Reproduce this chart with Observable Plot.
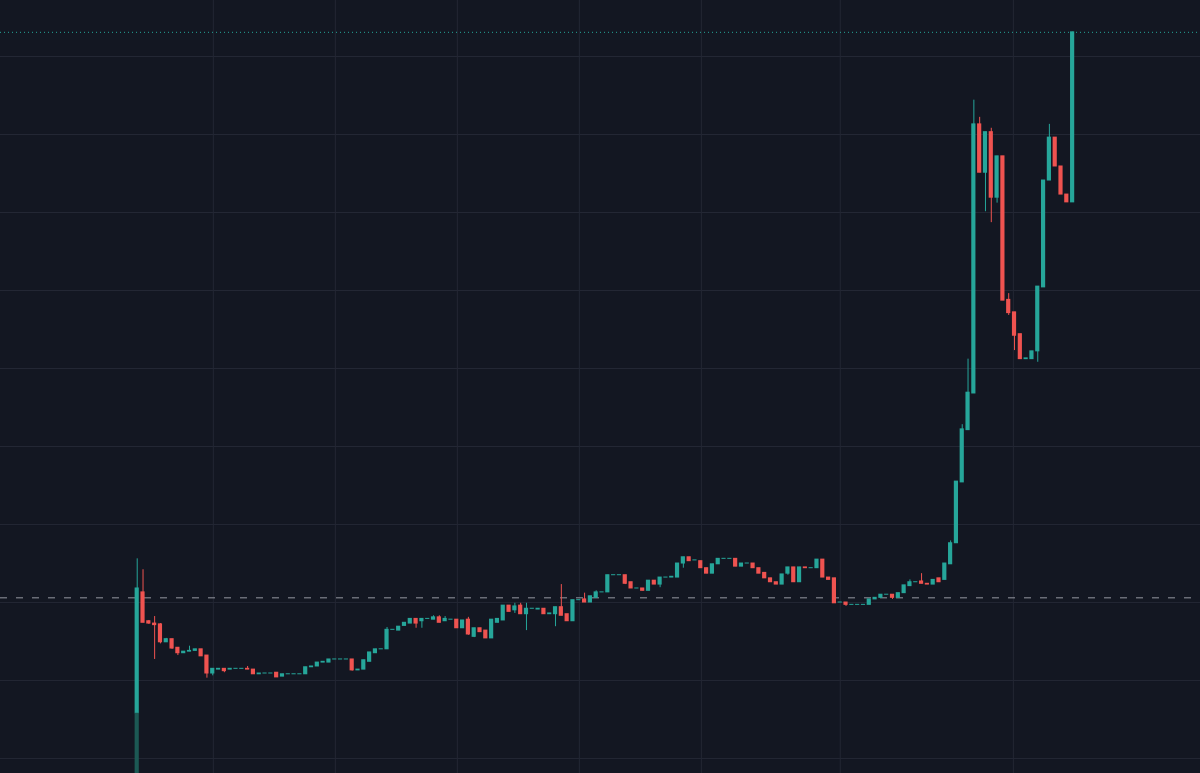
<!DOCTYPE html>
<html><head><meta charset="utf-8">
<script src="https://cdn.jsdelivr.net/npm/d3@7"></script>
<script src="https://cdn.jsdelivr.net/npm/@observablehq/plot@0.6"></script>
<style>html,body{margin:0;padding:0;background:#131722;overflow:hidden}</style>
</head><body><div id="chart"></div>
<script>
// Candle values (arbitrary price units, grid every 10 units)
const open = [5.8,21.3,17.6,17.3,17.2,14.9,15.3,14.2,13.5,13.7,13.8,14.0,13.2,10.9,11.4,11.5,11.4,11.5,11.5,11.5,
11.4,10.8,10.9,10.9,11.0,10.5,10.8,10.8,10.8,10.8,11.7,11.8,12.3,12.3,12.7,12.7,12.7,12.7,11.3,11.4,
12.4,13.5,14.0,14.0,16.5,16.4,17.0,17.3,17.9,17.6,17.9,17.8,18.1,17.6,17.8,17.8,16.7,17.8,15.6,16.7,
16.4,15.4,17.4,17.7,19.6,19.0,19.6,18.5,19.2,19.1,19.2,18.5,18.5,19.4,18.5,17.6,20.3,20.4,20.0,20.6,
21.3,21.3,23.5,23.5,23.5,22.6,21.8,21.8,21.5,22.8,22.3,23.2,23.2,23.2,25.0,25.8,25.4,25.3,24.4,23.7,
24.9,25.6,25.6,25.6,24.6,25.0,25.0,24.4,23.8,23.1,22.6,22.3,23.7,24.5,22.6,24.5,24.4,24.4,25.5,23.2,
23.1,20.0,20.0,19.7,19.7,19.7,19.7,20.4,20.6,21.0,21.0,20.6,21.2,22.1,22.6,22.7,22.4,22.3,23.1,22.9,
24.9,27.6,35.4,42.1,46.8,81.3,75.1,80.3,71.9,77.2,58.8,57.2,54.4,51.2,51.2,52.2,60.4,74.1,79.6,75.9,
72.3,71.3];
const close = [21.8,17.4,17.3,17.1,14.9,15.3,14.1,13.5,13.7,13.8,14.0,13.1,10.9,11.5,11.5,11.2,11.5,11.5,11.5,11.4,
10.8,10.9,10.9,10.9,10.4,10.8,10.8,10.8,10.8,11.7,11.8,12.3,12.4,12.7,12.7,12.7,12.7,11.3,11.4,12.6,
13.6,14.0,14.0,16.5,16.5,16.9,17.4,17.9,17.3,17.9,17.9,18.1,17.4,17.9,17.8,16.7,17.7,15.9,16.7,16.2,
15.4,17.8,17.9,19.6,18.8,19.5,18.5,19.2,19.2,19.2,18.5,18.6,19.4,18.3,17.6,20.3,20.3,20.0,20.8,21.3,
21.3,23.5,23.5,23.5,22.4,21.8,21.8,21.5,22.8,22.3,23.2,23.2,23.3,25.0,25.8,25.3,25.4,24.4,23.7,24.9,
25.6,25.6,25.6,24.6,25.0,25.0,24.4,23.7,23.1,22.6,22.3,23.6,24.5,22.6,24.5,24.4,24.4,25.5,23.2,22.9,
19.9,20.0,19.7,19.7,19.7,19.7,20.4,20.6,21.0,21.0,20.6,21.2,22.2,22.6,22.6,22.4,22.3,22.9,22.6,25.0,
27.6,35.5,42.2,46.9,81.3,75.1,80.3,71.9,77.2,58.7,57.1,54.2,51.2,51.3,52.2,60.5,74.1,79.6,75.9,72.3,
71.3,93.1];
// Upper wick tops [candle index, high] where the wick rises above the body
const highWicks = [[0,25.6],[1,24.2],[2,17.7],[3,18.2],[4,17.3],[5,15.4],[9,14.4],[19,11.8],[43,16.8],
[51,18.3],[52,18.3],[53,18.2],[57,18.1],[65,19.9],[66,19.9],[67,19.9],[73,22.3],[77,21.2],[79,21.5],
[133,22.9],[135,23.7],[140,27.9],[142,42.8],[143,51.2],[144,84.4],[145,82.2],[147,80.8],[150,59.6],[157,81.3]];
// Lower wick bottoms [candle index, low]
const lowWicks = [[0,3.3],[2,17.2],[3,12.7],[4,14.7],[6,14.0],[7,13.2],[12,10.3],[13,10.6],[15,11.0],
[37,11.2],[48,16.7],[49,16.7],[57,15.8],[58,15.5],[65,18.6],[67,16.4],[72,16.9],[84,22.3],[90,21.9],
[94,24.4],[112,23.5],[122,19.5],[130,20.4],[146,70.1],[147,68.7],[148,71.2],[150,56.8],[151,52.3],[155,50.8]];
// Volume overlay visible only for the launch candle
const volumeIndex = [0];
const volumeTop = [5.8];
// Reference lines
const referencePrice = [20.6];
const lastPrice = [93.1];
// Grid positions
const yTicks = [0,10,20,30,40,50,60,70,80,90];
const xTicks = [13.1,34.1,55.1,76.1,97.1,121,150.8];

const UP = "#26a69a", DOWN = "#ef5350", GRID = "#232734", BG = "#131722";
const yDomain = [-1.92, 97.18];
const hiMap = new Map(highWicks), loMap = new Map(lowWicks);
const candles = open.map((o, i) => {
  const c = close[i];
  return {i, open: o, close: c,
    high: hiMap.has(i) ? hiMap.get(i) : Math.max(o, c),
    low: loMap.has(i) ? loMap.get(i) : Math.min(o, c),
    color: c >= o ? UP : DOWN};
});
const volume = volumeIndex.map((i, k) => ({i, v: volumeTop[k]}));
const hw = 0.36;

const chart = Plot.plot({
  width: 1200, height: 773, margin: 0,
  style: {background: BG},
  x: {domain: [-23.53, 183.01], axis: null},
  y: {domain: yDomain, axis: null},
  color: {type: "identity"},
  marks: [
    Plot.ruleY(yTicks, {stroke: GRID, strokeWidth: 1}),
    Plot.ruleX(xTicks, {stroke: GRID, strokeWidth: 1}),
    Plot.ruleY(referencePrice, {stroke: "#9598a1", strokeWidth: 1, strokeDasharray: "7,9"}),
    Plot.ruleY(lastPrice, {stroke: UP, strokeWidth: 1, strokeDasharray: "1,3"}),
    Plot.ruleX(candles, {x: "i", y1: "low", y2: "high", stroke: "color", strokeWidth: 1}),
    Plot.rect(candles, {x1: d => d.i - hw, x2: d => d.i + hw, y1: "open", y2: "close", fill: "color", insetTop: -0.5, insetBottom: -0.5}),
    Plot.rect(volume, {x1: d => d.i - hw, x2: d => d.i + hw, y1: yDomain[0], y2: "v", fill: "#1c5954"})
  ]
});
document.getElementById("chart").append(chart);
</script>
</body></html>
